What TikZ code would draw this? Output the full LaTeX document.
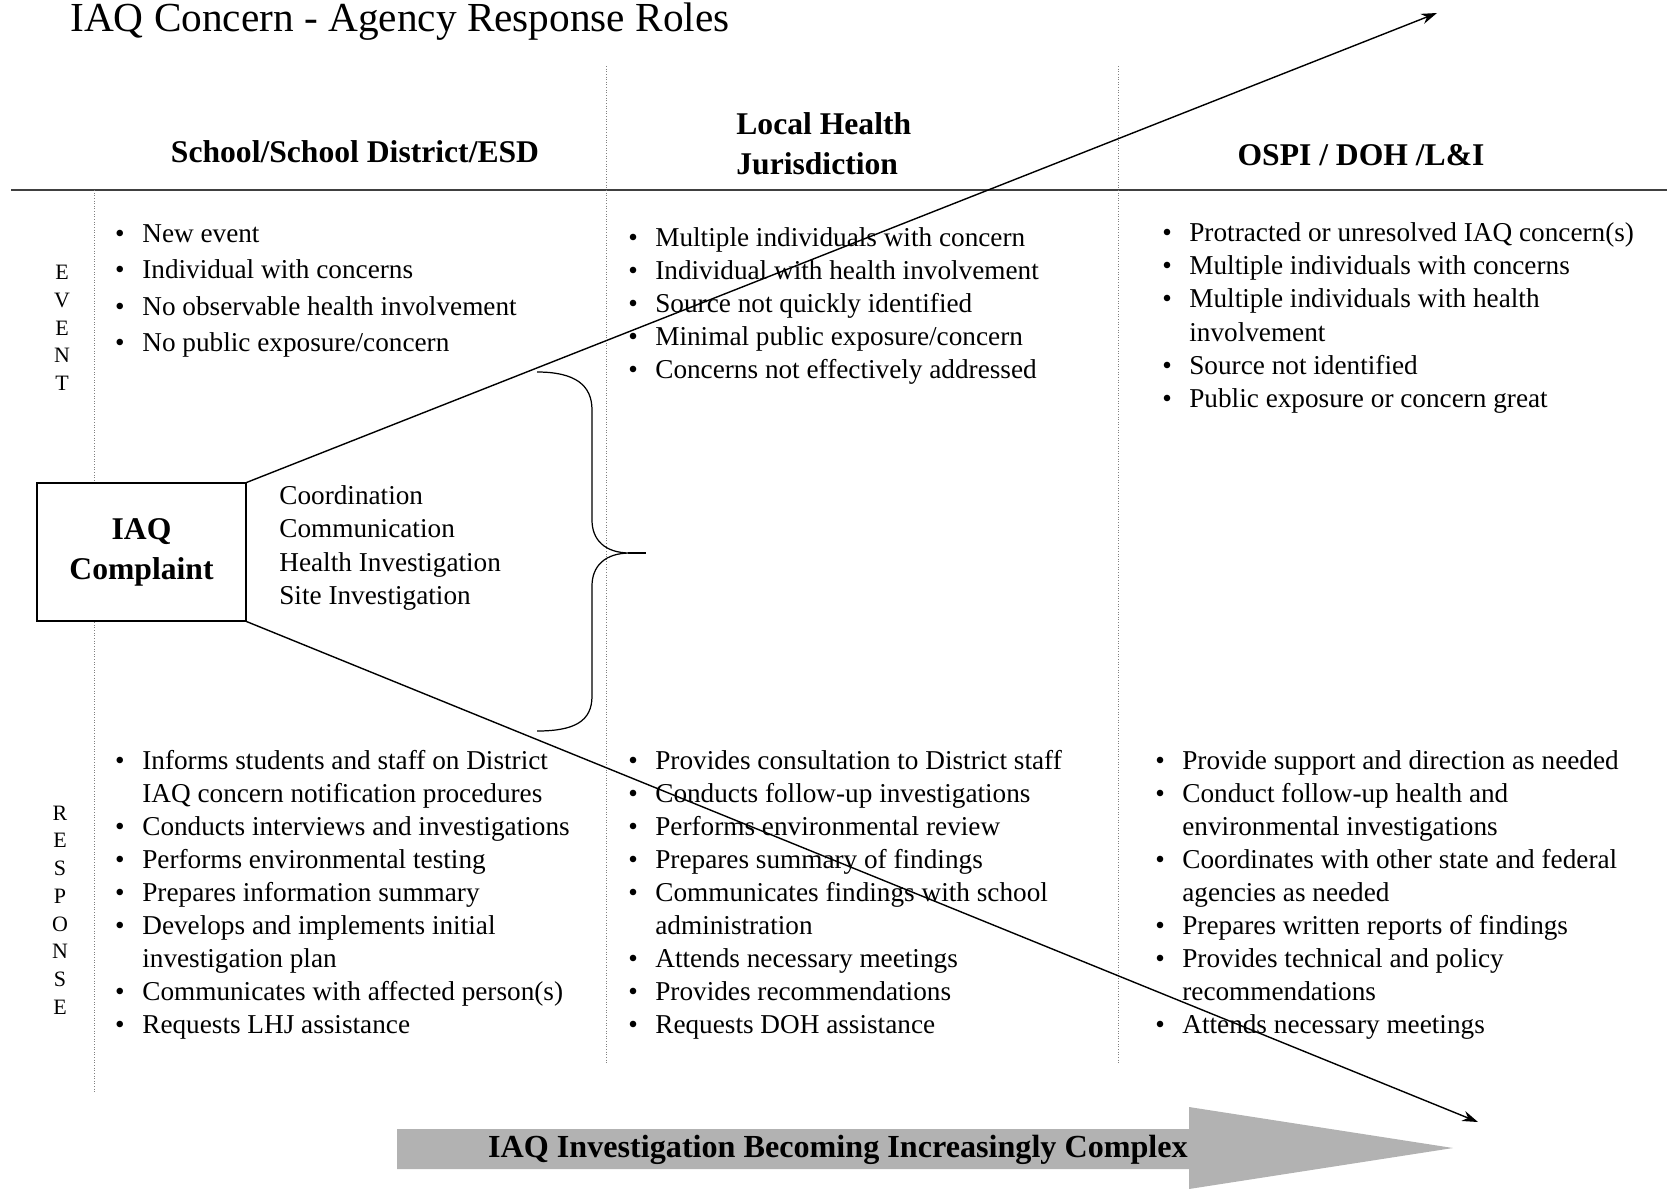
\documentclass[tikz,border=0pt]{standalone}
\usepackage{fontspec}
\setmainfont{Liberation Serif}
\usetikzlibrary{positioning, arrows.meta}

\newcommand{\bl}{\makebox[0pt][r]{\textbullet\hspace{10pt}}}

\begin{document}
\begin{tikzpicture}[x=0.02cm, y=-0.02cm,
	head/.style={font=\fontsize{18}{22.7}\selectfont\bfseries, inner sep=0},
	list/.style={anchor=base west, inner sep=0, font=\fontsize{15.5}{18.85}\selectfont},
	tag/.style={align=center, inner sep=0, font=\fontsize{12.5}{15.8}\selectfont},
	sep/.style={densely dotted, gray, line width=0.5pt},
	trend/.style={-{Stealth[length=9pt, width=6pt]}, line width=0.8pt}]
\useasboundingbox (0,0) rectangle (1667,1191);

\node[anchor=base west, inner sep=0, font=\fontsize{23.5}{28}\selectfont] (title) at (70,31) {IAQ Concern - Agency Response Roles};

% grid
\draw[black!75, line width=1.2pt] (11,190) -- (1667,190);
\draw[sep] (94,190) -- (94,1092);
\foreach \x in {606, 1118} {
	\draw[sep] (\x,66) -- (\x,1063);
}

% column heads
\node[head] (hdschool) at (355,152) {School/School District/ESD};
\node[head, align=left, anchor=west] (hdlocal) at (736,144) {Local Health\\Jurisdiction};
\node[head] (hdstate) at (1361,155) {OSPI / DOH /L\&I};

\node[tag] (evtag) at (62,328) {E\\V\\E\\N\\T};
\node[tag] (rstag) at (60,910) {R\\E\\S\\P\\O\\N\\S\\E};

% events
\node[list, font=\fontsize{15.5}{20.8}\selectfont] (evschool) at (142,242) {\begin{tabular}[t]{@{}l@{}}
	\bl New event\\
	\bl Individual with concerns\\
	\bl No observable health involvement\\
	\bl No public exposure/concern
\end{tabular}};
\node[list] (evlocal) at (655,246) {\begin{tabular}[t]{@{}l@{}}
	\bl Multiple individuals with concern\\
	\bl Individual with health involvement\\
	\bl Source not quickly identified\\
	\bl Minimal public exposure/concern\\
	\bl Concerns not effectively addressed
\end{tabular}};
\node[list, font=\fontsize{15.5}{19}\selectfont] (evstate) at (1189,241) {\begin{tabular}[t]{@{}l@{}}
	\bl Protracted or unresolved IAQ concern(s)\\
	\bl Multiple individuals with concerns\\
	\bl Multiple individuals with health\\
	involvement\\
	\bl Source not identified\\
	\bl Public exposure or concern great
\end{tabular}};

% responses
\node[list] (rsschool) at (142,769) {\begin{tabular}[t]{@{}l@{}}
	\bl Informs students and staff on District\\
	IAQ concern notification procedures\\
	\bl Conducts interviews and investigations\\
	\bl Performs environmental testing\\
	\bl Prepares information summary\\
	\bl Develops and implements initial\\
	investigation plan\\
	\bl Communicates with affected person(s)\\
	\bl Requests LHJ assistance
\end{tabular}};
\node[list] (rslocal) at (655,769) {\begin{tabular}[t]{@{}l@{}}
	\bl Provides consultation to District staff\\
	\bl Conducts follow-up investigations\\
	\bl Performs environmental review\\
	\bl Prepares summary of findings\\
	\bl Communicates findings with school\\
	administration\\
	\bl Attends necessary meetings\\
	\bl Provides recommendations\\
	\bl Requests DOH assistance
\end{tabular}};
\node[list] (rsstate) at (1182,769) {\begin{tabular}[t]{@{}l@{}}
	\bl Provide support and direction as needed\\
	\bl Conduct follow-up health and\\
	environmental investigations\\
	\bl Coordinates with other state and federal\\
	agencies as needed\\
	\bl Prepares written reports of findings\\
	\bl Provides technical and policy\\
	recommendations\\
	\bl Attends necessary meetings
\end{tabular}};

% complaint and its spread
\node[draw, fill=white, line width=0.6pt, minimum width=4.18cm, minimum height=2.76cm, align=center,
	font=\fontsize{18}{22.7}\selectfont\bfseries] (complaint) at (141.5,552) {IAQ\\Complaint};
\coordinate (up) at (1437,13);
\coordinate (down) at (1478,1122);
\draw[trend] (complaint.north east) -- (up);
\draw[trend] (complaint.south east) -- (down);

\node[list, font=\fontsize{15.5}{19.1}\selectfont] (tasks) at (279,504) {\begin{tabular}[t]{@{}l@{}}
	Coordination\\Communication\\Health Investigation\\Site Investigation
\end{tabular}};

% brace
\draw[line width=0.7pt] (537,372) .. controls (575,372) and (592,385) .. (592,410) -- (592,520)
	.. controls (592,540) and (605,553) .. (630,553)
	.. controls (605,553) and (592,566) .. (592,586) -- (592,696)
	.. controls (592,721) and (575,731) .. (537,731);
\draw[line width=1.5pt] (628,553) -- (646,553);

% complexity arrow
\fill[gray!60] (397,1129) -- (1189,1129) -- (1189,1107) -- (1453,1148) -- (1189,1189) -- (1189,1169) -- (397,1169) -- cycle;
\node[head, font=\fontsize{18.3}{22.7}\selectfont\bfseries] (growth) at (838,1150) {IAQ Investigation Becoming Increasingly Complex};
\end{tikzpicture}
\end{document}
